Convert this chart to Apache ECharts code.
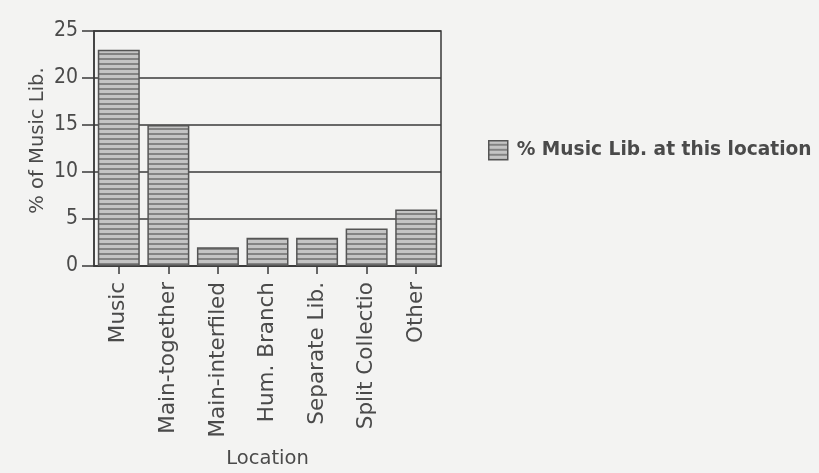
<!DOCTYPE html>
<html>
<head>
<meta charset="utf-8">
<script src="https://cdn.jsdelivr.net/npm/echarts@6/dist/echarts.min.js"></script>
<style>
  html, body { margin: 0; padding: 0; background: #f3f3f2; }
  #chart { width: 819px; height: 473px; }
</style>
</head>
<body>
<div id="chart"></div>
<script>
// Share of music libraries by location
const categories = ['Music', 'Main-together', 'Main-interfiled', 'Hum. Branch', 'Separate Lib.', 'Split Collectio', 'Other'];
const percentValues = [23, 15, 2, 3, 3, 4, 6];
const yTicks = { min: 0, max: 25, interval: 5 };
const seriesName = '% Music Lib. at this location';

// Horizontal hatch fill for the bars
function stripePattern() {
  const c = document.createElement('canvas');
  c.width = 8; c.height = 5;
  const ctx = c.getContext('2d');
  ctx.fillStyle = '#c4c4c4';
  ctx.fillRect(0, 0, 8, 5);
  ctx.fillStyle = '#838383';
  ctx.fillRect(0, 3, 8, 2);
  return c;
}
const fill = { image: stripePattern(), repeat: 'repeat' };

const textColor = '#4a4a4a';
const lineColor = '#3a3a3a';
const font = 'DejaVu Sans';
const narrowFont = '"Liberation Sans Narrow", "DejaVu Sans Condensed", "Liberation Sans", sans-serif';

const chart = echarts.init(document.getElementById('chart'));
chart.setOption({
  backgroundColor: '#f3f3f2',
  animation: false,
  grid: {
    left: 94, right: 378, top: 31, bottom: 207,
    show: true, borderColor: lineColor, borderWidth: 1.5,
    backgroundColor: 'transparent'
  },
  legend: {
    left: 483, top: 135,
    icon: 'rect',
    itemWidth: 19, itemHeight: 19,
    itemGap: 0,
    textStyle: { fontFamily: font, fontSize: 18.6, fontWeight: 'bold', color: textColor, padding: [0, 0, 0, 4] },
    data: [{ name: seriesName, itemStyle: { color: fill, borderColor: '#555', borderWidth: 1.5 } }]
  },
  xAxis: {
    type: 'category',
    data: categories,
    name: 'Location',
    nameLocation: 'middle',
    nameGap: 183,
    nameTextStyle: { fontFamily: font, fontSize: 19.5, color: textColor },
    axisLine: { show: true, lineStyle: { color: lineColor, width: 1.5 } },
    axisTick: { show: true, alignWithLabel: true, length: 8, lineStyle: { color: lineColor, width: 1.5 } },
    axisLabel: { interval: 0, rotate: 90, margin: 16, fontFamily: font, fontSize: 21.5, color: textColor }
  },
  yAxis: {
    type: 'value',
    min: yTicks.min, max: yTicks.max, interval: yTicks.interval,
    name: '% of Music Lib.',
    nameLocation: 'middle',
    nameGap: 46,
    nameRotate: 90,
    nameTextStyle: { fontFamily: font, fontSize: 19.5, color: textColor, padding: [0, 0, 0, 16] },
    axisLine: { show: true, lineStyle: { color: lineColor, width: 1.5 } },
    axisTick: { show: true, length: 12, lineStyle: { color: lineColor, width: 1.5 } },
    axisLabel: { margin: 16, fontFamily: narrowFont, fontSize: 21, color: textColor },
    splitLine: { show: true, lineStyle: { color: lineColor, width: 1.5 } }
  },
  series: [{
    name: seriesName,
    type: 'bar',
    data: percentValues,
    barWidth: 42,
    itemStyle: { color: fill, borderColor: '#555', borderWidth: 1.5 }
  }]
});
</script>
</body>
</html>
